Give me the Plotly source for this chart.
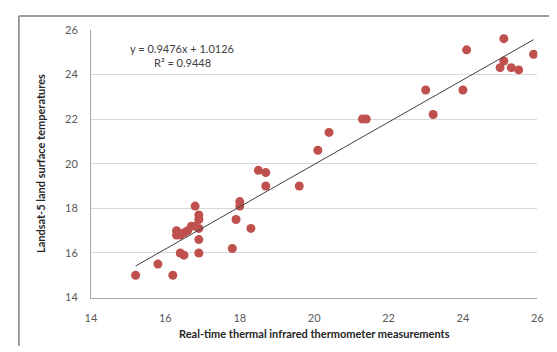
import plotly.graph_objects as go

# Measurements (x: real-time thermal infrared thermometer, y: Landsat-5 LST)
x_vals = [15.2, 15.8, 16.2, 16.4, 16.5, 16.3, 16.3, 16.4, 16.5, 16.6, 16.7, 16.8,
          16.8, 16.9, 16.9, 16.9, 16.9, 16.9, 17.8, 17.9, 18.0, 18.0, 18.3, 18.5,
          18.7, 18.7, 19.6, 20.1, 20.4, 21.3, 21.4, 23.0, 23.2, 24.0, 24.1, 25.1,
          25.1, 25.0, 25.3, 25.5, 25.9]
y_vals = [15.0, 15.5, 15.0, 16.0, 15.9, 17.0, 16.8, 16.8, 16.9, 17.0, 17.2, 17.2,
          18.1, 17.7, 17.5, 17.1, 16.6, 16.0, 16.2, 17.5, 18.3, 18.1, 17.1, 19.7,
          19.6, 19.0, 19.0, 20.6, 21.4, 22.0, 22.0, 23.3, 22.2, 23.3, 25.1, 25.6,
          24.6, 24.3, 24.3, 24.2, 24.9]

slope = 0.9476
intercept = 1.0126
r_squared = 0.9448
trend_x = [min(x_vals), max(x_vals)]
trend_y = [slope * v + intercept for v in trend_x]

tick_vals = [14, 16, 18, 20, 22, 24, 26]
tick_text = ["14", "16", "18", "20", "22", "24", "26"]

W, H = 549, 344  # page body has an 8px margin in the 557x352 window
FONT = "Lato"
fig = go.Figure()
fig.add_trace(go.Scatter(x=x_vals, y=y_vals, mode="markers",
                         marker=dict(size=9, color="#C0504D"),
                         showlegend=False))
fig.add_trace(go.Scatter(x=trend_x, y=trend_y, mode="lines",
                         line=dict(color="#404040", width=1),
                         showlegend=False))

fig.update_layout(
    width=W, height=H,
    margin=dict(l=0, r=0, t=0, b=0, pad=0),
    paper_bgcolor="white", plot_bgcolor="white",
    font=dict(family=FONT, color="#595959", size=11),
    xaxis=dict(domain=[78.7 / W, 535 / W],
               range=[14, 26], tickvals=tick_vals, ticktext=tick_text,
               showgrid=False, zeroline=False, showline=True,
               linecolor="#A6A6A6", linewidth=1, ticks="",
               ticklabelstandoff=10, ticklabeloverflow="allow",
               tickfont=dict(size=11, color="#595959")),
    yaxis=dict(domain=[(H - 293.7) / H, (H - 15.3) / H],
               range=[14, 26], tickvals=tick_vals, ticktext=tick_text,
               showgrid=True, gridcolor="#D9D9D9", gridwidth=1,
               zeroline=False, showline=True, linecolor="#A6A6A6", linewidth=1,
               ticks="", ticklabelstandoff=10,
               tickfont=dict(size=11, color="#595959")),
    shapes=[
        dict(type="line", xref="paper", yref="paper", x0=5 / W, x1=5 / W,
             y0=0, y1=(H - 1) / H, line=dict(color="#7F7F7F", width=1.5)),
        dict(type="line", xref="paper", yref="paper", x0=5 / W, x1=1,
             y0=(H - 1) / H, y1=(H - 1) / H, line=dict(color="#7F7F7F", width=1.5)),
    ],
    annotations=[
        dict(text="y = 0.9476x + 1.0126", x=16.46, y=25.16, xref="x", yref="y",
             showarrow=False, font=dict(size=11, color="#404040")),
        dict(text="R² = 0.9448", x=16.46, y=24.55, xref="x", yref="y",
             showarrow=False, font=dict(size=11, color="#404040")),
        dict(text="<b>Real-time thermal infrared thermometer measurements</b>",
             xref="paper", yref="paper", x=306.9 / W, y=(H - 331) / H,
             yanchor="middle", xanchor="center", showarrow=False,
             font=dict(size=11, color="#262626")),
        dict(text="<b>Landsat-5 land surface temperatures</b>",
             xref="paper", yref="paper", x=27 / W, y=(H - 154.5) / H, textangle=-90,
             xanchor="center", yanchor="middle", showarrow=False,
             font=dict(size=11, color="#262626")),
    ],
)

fig.write_html("out.html")
